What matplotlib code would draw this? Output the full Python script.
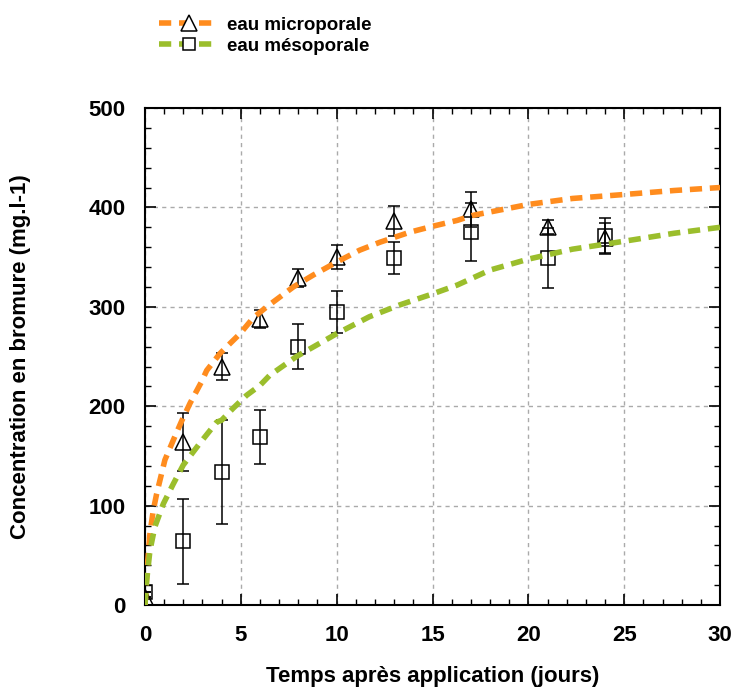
import numpy as np
import matplotlib.pyplot as plt
from matplotlib.lines import Line2D
from matplotlib.ticker import MultipleLocator

plt.rcParams['font.family'] = ['Liberation Sans', 'DejaVu Sans']
plt.rcParams['font.weight'] = 'bold'

# Mesures (jours, mg/l)
t_mes = [0, 2, 4, 6, 8, 10, 13, 17, 21, 24]
micro_mes = [8, 164, 240, 288, 329, 350, 386, 398, 380, 369]
micro_err = [0, 29, 14, 9, 9, 12, 15, 18, 7, 15]
meso_mes = [13, 64, 134, 169, 260, 295, 349, 375, 349, 371]
meso_err = [0, 43, 52, 27, 23, 21, 16, 29, 30, 18]

# Courbes ajustées
t_micro_fit = [0, 0.12, 0.26, 0.43, 0.61, 1.04, 1.48, 1.91, 2.35, 2.96, 3.22, 3.91,
               4.43, 4.96, 5.65, 6.35, 7.74, 8.78, 10, 11.2, 12.26, 13.8, 15,
               16.3, 17.1, 20, 22.3, 25, 27.6, 30]
micro_fit = [0, 38, 72, 95, 112, 146, 166, 185, 203, 225, 236, 253,
             263, 273, 289, 300, 320, 332, 345, 357, 365, 375, 381,
             387, 392, 403, 409, 413, 417, 420]
t_meso_fit = [0, 0.09, 0.26, 0.52, 0.96, 1.48, 2.0, 2.87, 3.74, 4.0, 4.6, 5.3,
              6.0, 6.5, 7.9, 10, 11.7, 13.3, 15, 16.3, 18, 20, 22.3, 25,
              27.6, 30]
meso_fit = [0, 25, 55, 79, 102, 122, 141, 163, 184, 186, 198, 211,
            221, 231, 250, 273, 290, 302, 313, 322, 337, 348, 358, 366,
            374, 380]

orange = '#FF8C1E'
green = '#9BBE2C'

fig = plt.figure(figsize=(7.34, 6.9), dpi=100)
ax = fig.add_axes([0.1975, 0.123, 0.7835, 0.7205])

ax.errorbar(t_mes, micro_mes, yerr=micro_err, fmt='^', ms=12, mfc='none', mec='black',
            mew=1.1, ecolor='black', elinewidth=1.1, capsize=4, capthick=1.1, zorder=3)
ax.errorbar(t_mes, meso_mes, yerr=meso_err, fmt='s', ms=10, mfc='none', mec='black',
            mew=1.1, ecolor='black', elinewidth=1.1, capsize=4, capthick=1.1, zorder=3)

ax.plot(t_micro_fit, micro_fit, color=orange, lw=4, ls=(0, (2.2, 1.4)), zorder=4)
ax.plot(t_meso_fit, meso_fit, color=green, lw=4, ls=(0, (2.2, 1.4)), zorder=4)

ax.set_xlim(0, 30)
ax.set_ylim(0, 500)
ax.xaxis.set_major_locator(MultipleLocator(5))
ax.xaxis.set_minor_locator(MultipleLocator(1))
ax.yaxis.set_major_locator(MultipleLocator(100))
ax.yaxis.set_minor_locator(MultipleLocator(20))
ax.tick_params(which='both', direction='in', top=True, right=True, labelsize=16)
ax.tick_params(which='major', length=8, width=1.2)
ax.tick_params(which='minor', length=4, width=1)
ax.tick_params(axis='x', pad=14)
ax.tick_params(axis='y', pad=14)
ax.grid(True, which='major', color='#aaaaaa', ls=(0, (3, 3)), lw=1)
for s in ax.spines.values():
    s.set_linewidth(1.5)

ax.set_xlabel('Temps après application (jours)', fontsize=16, fontweight='bold', labelpad=15)
ax.set_ylabel('Concentration en bromure (mg.l-1)', fontsize=16, fontweight='bold')
ax.yaxis.set_label_coords(-0.198, 0.5)

handles = [
    Line2D([], [], color=orange, lw=4, ls=(0, (2.2, 1.4)), marker='^', ms=11,
           mfc='white', mec='black', mew=1.1),
    Line2D([], [], color=green, lw=4, ls=(0, (2.2, 1.4)), marker='s', ms=9,
           mfc='white', mec='black', mew=1.1),
]
fig.legend(handles, ['eau microporale', 'eau mésoporale'], loc='upper left',
           bbox_to_anchor=(0.194, 1.0), frameon=False, numpoints=1,
           handlelength=3.2, fontsize=13.5, labelspacing=0.2, handletextpad=0.4)

fig.savefig('out.png', dpi=100)
